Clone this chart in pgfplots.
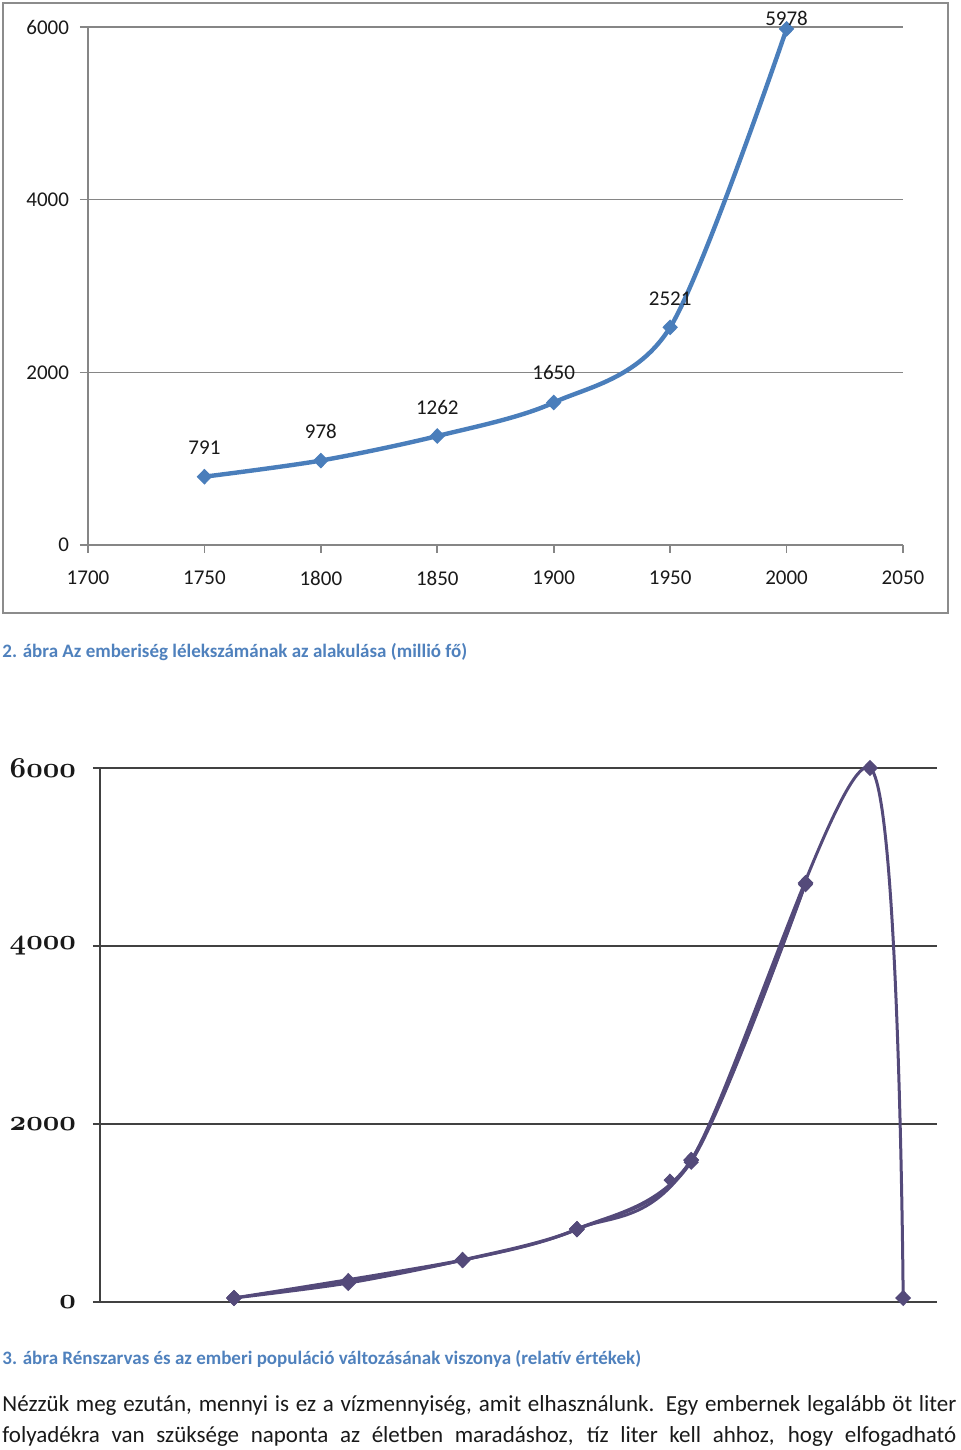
\documentclass[border=0pt]{standalone}
\usepackage{fontspec}
\setmainfont{Carlito}
\usepackage{pgfplots}
\pgfplotsset{compat=1.18}
\usepackage{pgfplotstable}
\definecolor{topblue}{RGB}{74,126,187}
\definecolor{gridgray}{RGB}{134,134,134}
\definecolor{framegray}{RGB}{140,140,140}
\definecolor{purp}{RGB}{84,74,122}
\definecolor{darkline}{RGB}{65,65,65}
\definecolor{capblue}{RGB}{79,129,189}
\definecolor{txt}{RGB}{25,25,25}
\newcommand\osf[1]{{\fontsize{13.5}{14}\usefont{OML}{cmm}{b}{it}#1}}
\pgfplotstableread{
year pop off
1750 791 14.5
1800 978 14.5
1850 1262 14.5
1900 1650 15
1950 2521 14.5
2000 5978 5
}\humantable
\begin{document}
\begin{tikzpicture}[x=0.5pt,y=0.5pt]
\useasboundingbox (0,0) rectangle (960,1450);
\draw[framegray, line width=1pt] (3,1447) rectangle (948,837);
\begin{axis}[
  at={(44pt,452.5pt)}, anchor=south west, scale only axis,
  width=407.5pt, height=259pt,
  xmin=1700, xmax=2050, ymin=0, ymax=6000,
  axis lines*=left,
  axis line style={gridgray, line width=0.8pt},
  xtick={1700,1750,...,2050}, ytick={0,2000,4000,6000},
  tick align=outside, major tick length=4pt,
  tick style={gridgray, line width=0.8pt},
  ymajorgrids, grid style={gridgray, line width=0.8pt},
  ticklabel style={font=\fontsize{10.5}{12}\selectfont, text=txt},
  /pgf/number format/1000 sep={},
  /pgf/number format/assume math mode=true,
  xticklabel style={yshift=-5.5pt},
  yticklabel style={xshift=-2pt},
  clip=false,
]
\addplot[topblue, line width=2.2pt, smooth, mark=diamond*, mark size=3.6pt,
  mark options={solid, fill=topblue, draw=topblue, line width=0.5pt, xscale=1.3},
  nodes near coords, point meta=explicit symbolic,
  visualization depends on={\thisrow{off} \as \off},
  every node near coord/.style={anchor=center, yshift=\off pt, font=\fontsize{10.5}{12}\selectfont, text=txt, inner sep=0pt},
] table[x=year, y=pop, meta=pop] {\humantable};
\end{axis}
\begin{axis}[
  at={(50pt,74pt)}, anchor=south west, scale only axis,
  width=418.5pt, height=267pt,
  xmin=1691.4, xmax=2057.5, ymin=0, ymax=6000,
  axis lines*=left, axis line style={darkline, line width=1pt},
  xtick=\empty, ytick={0,2000,4000,6000},
  yticklabels={\osf{0},\osf{2000},\osf{4000},\osf{6000}},
  yticklabel style={text=txt, xshift=-5pt},
  tick align=outside, major tick length=3.5pt, tick style={darkline, line width=1pt},
  ymajorgrids, grid style={darkline, line width=1pt},
  clip=false,
]
\addplot[purp, line width=1.5pt, smooth, mark=diamond*, mark size=3pt, mark options={solid, fill=purp, xscale=1.3}]
  coordinates {(1750,45)(1800,213)(1850,472)(1900,820)(1950,1595)(2000,4708)};
\addplot[purp, line width=1.2pt, smooth, mark=diamond*, mark size=3pt, mark options={solid, fill=purp, xscale=1.3}]
  coordinates {(1750,45)(1800,240)(1850,466)(1900,812)(1950,1570)(2000,4690)};
\addplot[purp, line width=1.5pt, smooth, mark=diamond*, mark size=3pt, mark options={solid, fill=purp, xscale=1.3}]
  coordinates {(1750,45)(1850,472)(1900,820)(1950,1595)(2028.2,6000)(2042.7,45)};
\addplot[purp, only marks, mark=diamond*, mark size=3pt, mark options={solid, fill=purp, xscale=1.3}]
  coordinates {(1940.7,1370)};
\end{axis}
\node[anchor=base west, inner sep=0pt, font=\fontsize{9.5}{11}\selectfont\bfseries, text=capblue] at (2,792) {2. ábra Az emberiség lélekszámának az alakulása (millió fő)};
\node[anchor=base west, inner sep=0pt, font=\fontsize{9.5}{11}\selectfont\bfseries, text=capblue] at (2,85) {3. ábra Rénszarvas és az emberi populáció változásának viszonya (relatív értékek)};
\node[anchor=base west, inner sep=0pt, font=\fontsize{11.5}{14}\selectfont, text=txt] at (2,38) {\makebox[477pt][s]{Nézzük meg ezután, mennyi is ez a vízmennyiség, amit elhasználunk. Egy embernek legalább öt liter}};
\node[anchor=base west, inner sep=0pt, font=\fontsize{11.5}{14}\selectfont, text=txt] at (2,8) {\makebox[477pt][s]{folyadékra van szüksége naponta az életben maradáshoz, tíz liter kell ahhoz, hogy elfogadható}};
\end{tikzpicture}
\end{document}
